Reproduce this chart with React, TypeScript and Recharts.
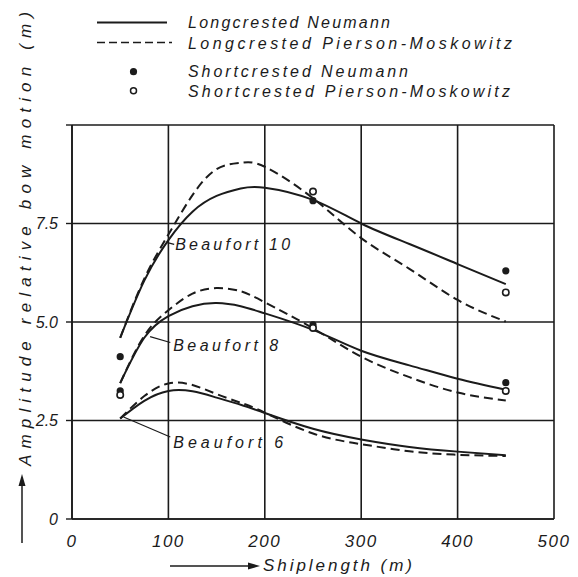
// Amplitude of relative bow motion vs ship length, three Beaufort sea states.
// Long-crested results are smooth lines, short-crested results are single points.

import {
  ComposedChart,
  Line,
  Scatter,
  XAxis,
  YAxis,
  CartesianGrid,
  Legend,
  ReferenceLine,
  ReferenceDot,
} from "recharts";

const FONT = "'Liberation Sans', Arial, sans-serif";
const INK = "#1b1b1b";

// ship length (m) where the curves were read
const shipLength = [50, 75, 100, 125, 150, 175, 200, 250, 300, 350, 400, 450];

// longcrested, Neumann spectrum (solid)
const b10Neumann = [4.6, 6.05, 7.08, 7.8, 8.2, 8.39, 8.41, 8.1, 7.5, 6.98, 6.47, 5.96];
const b8Neumann = [3.45, 4.6, 5.15, 5.4, 5.48, 5.4, 5.22, 4.8, 4.27, 3.9, 3.56, 3.28];
const b6Neumann = [2.55, 3.0, 3.25, 3.24, 3.08, 2.9, 2.69, 2.29, 2.02, 1.83, 1.71, 1.62];

// longcrested, Pierson-Moskowitz spectrum (dashed)
const b10PM = [4.6, 6.1, 7.22, 8.22, 8.88, 9.04, 8.94, 8.14, 7.13, 6.35, 5.56, 5.01];
const b8PM = [3.45, 4.65, 5.3, 5.72, 5.86, 5.78, 5.5, 4.84, 4.12, 3.6, 3.21, 3.01];
const b6PM = [2.55, 3.12, 3.44, 3.4, 3.17, 2.95, 2.7, 2.17, 1.9, 1.72, 1.63, 1.6];

// shortcrested points
const scNeumannX = [50, 50, 250, 250, 450, 450];
const scNeumannY = [4.12, 3.25, 8.08, 4.93, 6.3, 3.46];
const scPMX = [50, 250, 250, 450, 450];
const scPMY = [3.15, 8.31, 4.85, 5.75, 3.25];

const xTicks = [0, 100, 200, 300, 400, 500];
const yTicks = [0, 2.5, 5, 7.5, 10];

const toPoints = (xs: number[], ys: number[]) => xs.map((x, i) => ({ x, y: ys[i] }));

const solidSeries = [b10Neumann, b8Neumann, b6Neumann].map((ys) => toPoints(shipLength, ys));
const dashedSeries = [b10PM, b8PM, b6PM].map((ys) => toPoints(shipLength, ys));

const italic = {
  fontFamily: FONT,
  fontStyle: "italic" as const,
  fill: INK,
};

function FilledDot(props: any) {
  return <circle cx={props.cx} cy={props.cy} r={3.6} fill={INK} />;
}

function OpenDot(props: any) {
  return <circle cx={props.cx} cy={props.cy} r={3.2} fill="#fff" stroke={INK} strokeWidth={1.6} />;
}

// legend drawn in its own little svg above the plot
function LegendBlock() {
  const txt = { ...italic, fontSize: 16 };
  return (
    <svg width={578} height={110} style={{ display: "block" }}>
      <line x1={97} x2={167} y1={22.5} y2={22.5} stroke={INK} strokeWidth={2} />
      <text x={188} y={28.3} {...txt} textLength={202} lengthAdjust="spacing">
        Longcrested Neumann
      </text>
      <line x1={97} x2={172} y1={42.5} y2={42.5} stroke={INK} strokeWidth={1.6} strokeDasharray="8 4" />
      <text x={188} y={49} {...txt} textLength={324} lengthAdjust="spacing">
        Longcrested Pierson-Moskowitz
      </text>
      <circle cx={133.5} cy={71.7} r={3.6} fill={INK} />
      <text x={188} y={77.3} {...txt} textLength={220} lengthAdjust="spacing">
        Shortcrested Neumann
      </text>
      <circle cx={133.5} cy={90.7} r={3} fill="#fff" stroke={INK} strokeWidth={1.5} />
      <text x={188} y={96.7} {...txt} textLength={322} lengthAdjust="spacing">
        Shortcrested Pierson-Moskowitz
      </text>
    </svg>
  );
}

function YTitle() {
  return (
    <g>
      <line x1={22} x2={22} y1={543} y2={482} stroke={INK} strokeWidth={1.5} />
      <polygon points="22,474 18.5,486 25.5,486" fill={INK} />
      <text
        x={31}
        y={466}
        transform="rotate(-90, 31, 466)"
        {...italic}
        fontSize={17}
        textLength={454}
        lengthAdjust="spacing"
      >
        Amplitude relative bow motion (m)
      </text>
    </g>
  );
}

function XTitle() {
  return (
    <g>
      <line x1={170} x2={250} y1={566} y2={566} stroke={INK} strokeWidth={1.5} />
      <polygon points="260,566 248,562.5 248,569.5" fill={INK} />
      <text x={263} y={571} {...italic} fontSize={17} textLength={149} lengthAdjust="spacing">
        Shiplength (m)
      </text>
    </g>
  );
}

function BeaufortLabel({ viewBox, text, width }: any) {
  if (!viewBox) return null;
  return (
    <text
      x={viewBox.x}
      y={viewBox.y + 5.5}
      {...italic}
      fontSize={16}
      textLength={width}
      lengthAdjust="spacing"
    >
      {text}
    </text>
  );
}

export default function App() {
  return (
    <div style={{ position: "absolute", left: 0, top: 0, background: "#fff" }}>
      <ComposedChart
        width={578}
        height={577}
        margin={{ top: 125, right: 24, bottom: 28, left: 0 }}
      >
        <CartesianGrid stroke={INK} strokeWidth={1.6} />

        <XAxis
          type="number"
          dataKey="x"
          domain={[0, 500]}
          ticks={xTicks}
          height={30}
          axisLine={{ stroke: INK, strokeWidth: 1.6 }}
          tickLine={false}
          tickMargin={10}
          tick={{ ...italic, fontSize: 17, letterSpacing: 1.5 }}
          label={<XTitle />}
        />
        <YAxis
          type="number"
          dataKey="y"
          domain={[0, 10]}
          ticks={yTicks}
          width={72}
          axisLine={{ stroke: INK, strokeWidth: 1.6 }}
          tickLine={{ stroke: INK, strokeWidth: 1.4 }}
          tickSize={6}
          tickMargin={8}
          tick={{ ...italic, fontSize: 16 }}
          tickFormatter={(v: number) => (v === 10 ? "" : v === 0 ? "0" : v.toFixed(1))}
          label={<YTitle />}
        />

        <Legend
          layout="horizontal"
          verticalAlign="middle"
          align="center"
          wrapperStyle={{ position: "absolute", left: 0, top: 0, width: 578, height: 110 }}
          content={() => <LegendBlock />}
        />

        {solidSeries.map((pts, i) => (
          <Line
            key={`n${i}`}
            data={pts}
            dataKey="y"
            type="natural"
            stroke={INK}
            strokeWidth={2}
            dot={false}
            activeDot={false}
            legendType="none"
            isAnimationActive={false}
          />
        ))}
        {dashedSeries.map((pts, i) => (
          <Line
            key={`pm${i}`}
            data={pts}
            dataKey="y"
            type="natural"
            stroke={INK}
            strokeWidth={2}
            strokeDasharray="9 5"
            dot={false}
            activeDot={false}
            legendType="none"
            isAnimationActive={false}
          />
        ))}

        <Scatter
          data={toPoints(scNeumannX, scNeumannY)}
          dataKey="y"
          shape={<FilledDot />}
          legendType="none"
          isAnimationActive={false}
        />
        <Scatter
          data={toPoints(scPMX, scPMY)}
          dataKey="y"
          shape={<OpenDot />}
          legendType="none"
          isAnimationActive={false}
        />

        {/* leader lines from the curves to the sea state labels */}
        <ReferenceLine segment={[{ x: 98, y: 7.02 }, { x: 106, y: 6.97 }]} stroke={INK} strokeWidth={1.2} />
        <ReferenceLine segment={[{ x: 81, y: 4.63 }, { x: 102, y: 4.48 }]} stroke={INK} strokeWidth={1.2} />
        <ReferenceLine segment={[{ x: 53.5, y: 2.59 }, { x: 102, y: 2.08 }]} stroke={INK} strokeWidth={1.2} />

        <ReferenceDot x={107} y={6.96} r={0} stroke="none" label={<BeaufortLabel text="Beaufort 10" width={115} />} />
        <ReferenceDot x={105} y={4.4} r={0} stroke="none" label={<BeaufortLabel text="Beaufort 8" width={105} />} />
        <ReferenceDot x={105} y={1.93} r={0} stroke="none" label={<BeaufortLabel text="Beaufort 6" width={110} />} />
      </ComposedChart>
    </div>
  );
}
